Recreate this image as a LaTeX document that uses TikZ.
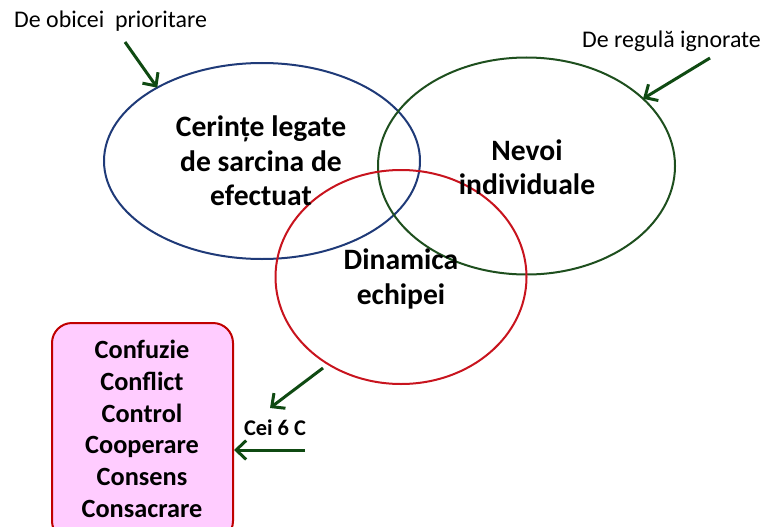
\documentclass[tikz,border=0pt]{standalone}
\usepackage{fontspec}
\setmainfont{Carlito}
\usetikzlibrary{shapes.geometric,arrows.meta}
\definecolor{eblue}{HTML}{1F3A78}
\definecolor{egreen}{HTML}{1E4F1E}
\definecolor{ered}{HTML}{C8141E}
\definecolor{agreen}{HTML}{0F4A12}
\definecolor{boxpink}{HTML}{FFCCFF}
\definecolor{boxred}{HTML}{C00000}
\begin{document}
\begin{tikzpicture}[x=1pt,y=-1pt,
  circ/.style={ellipse, draw, line width=2pt, inner sep=0pt, outer sep=0pt},
  big/.style={font=\bfseries\fontsize{29.6}{34.5}\selectfont, align=center, inner sep=0pt},
  lbl/.style={font=\fontsize{23.9}{28}\selectfont, inner sep=0pt},
  arr/.style={draw=agreen, line width=3pt, -{Straight Barb[length=10pt,width=19pt,line width=3pt]}},
]
\useasboundingbox (0,0) rectangle (768,527);
\clip (0,0) rectangle (768,527);
\node[circ, draw=eblue, minimum width=316pt, minimum height=196pt] (blue) at (262,161) {};
\node[circ, draw=egreen, minimum width=297pt, minimum height=217pt] (green) at (526.5,166) {};
\node[circ, draw=ered, minimum width=251pt, minimum height=214pt] (red) at (401,277) {};

\node[big] (tasks) at (261,161) {Cerințe legate\\de sarcina de\\efectuat};
\node[big] (needs) at (527,167) {Nevoi\\individuale};
\node[big] (team) at (401,279) {Dinamica\\echipei};

\node[lbl, anchor=west] (prio) at (14,21) {De obicei~ prioritare};
\node[lbl, anchor=west] (ign) at (582,41) {De regulă ignorate};

\node[draw=boxred, fill=boxpink, line width=2pt, rounded corners=20pt,
      minimum width=181pt, minimum height=218pt, inner sep=0pt] (box) at (142.5,432) {};
\node[font=\bfseries\fontsize{26.3}{31.7}\selectfont, align=center, inner sep=0pt] (cs) at (142,429)
  {Confuzie\\Conflict\\Control\\Cooperare\\Consens\\Consacrare};
\node[font=\bfseries\fontsize{22.4}{26}\selectfont, inner sep=0pt] (six) at (275,428) {Cei 6 C};

\coordinate (a1) at (125,42);
\coordinate (a2) at (710,58);
\coordinate (a3s) at (323,368);
\coordinate (a3e) at (270,408);
\coordinate (a4) at (305,450);

\draw[arr] (a1) -- (blue.145);
\draw[arr] (a2) -- (green.30);
\draw[arr] (a3s) -- (a3e);
\draw[arr] (a4) -- (a4 -| box.east);
\end{tikzpicture}
\end{document}
